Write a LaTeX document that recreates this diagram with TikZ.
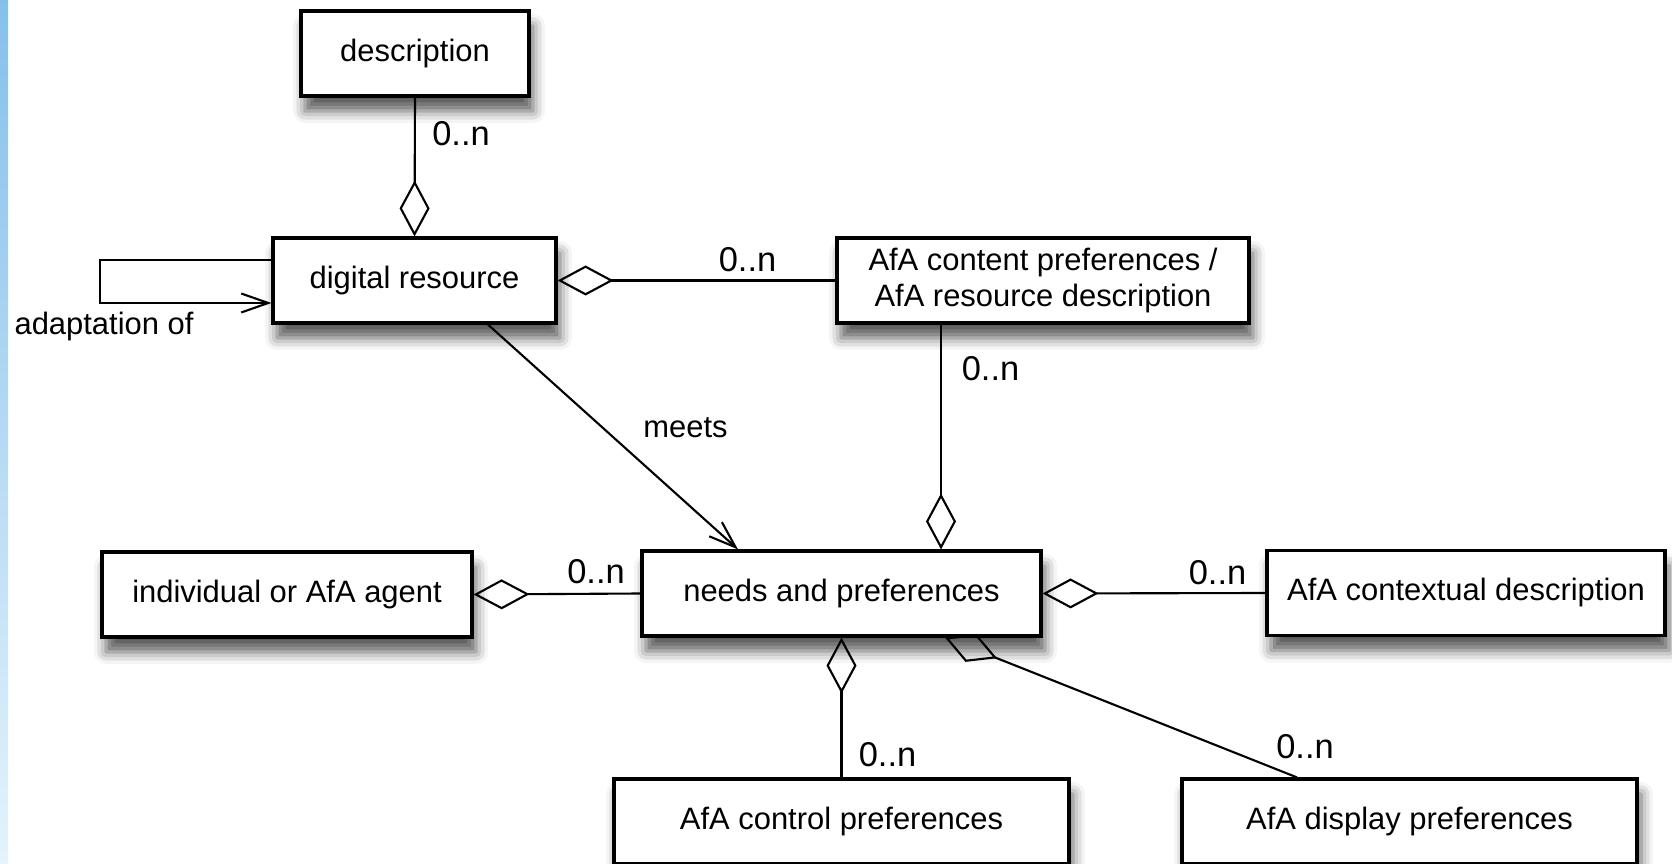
\documentclass[tikz,border=0pt]{standalone}
\usepackage{fontspec}
\setmainfont{Liberation Sans}
\usetikzlibrary{positioning}
\usetikzlibrary{calc}
\usetikzlibrary{arrows.meta,shadows.blur}

\definecolor{striptop}{RGB}{134,192,234}
\definecolor{stripbot}{RGB}{228,243,252}

\begin{document}
\begin{tikzpicture}
\tikzstyle{klass} =[rectangle,draw=black,line width=0.9pt,fill=white,minimum height=8.5mm,inner sep=0pt,font=\fontsize{8.8}{10}\selectfont,blur shadow={shadow xshift=0.4mm,shadow yshift=-1.5mm,shadow blur radius=1.2mm,shadow opacity=65}]
\tikzstyle{mult} =[inner sep=0pt,font=\fontsize{9.8}{11}\selectfont]
\tikzstyle{role} =[inner sep=0pt,font=\fontsize{8.8}{10}\selectfont]
\tikzstyle{agg} =[line width=0.6pt,{Diamond[open,length=5.6mm,width=3mm]}-]
\tikzstyle{assoc} =[line width=0.6pt,-{Straight Barb[length=2.7mm,width=1.9mm]}]

\useasboundingbox (0,0) rectangle (16.72,-8.64);
\shade[top color=striptop,bottom color=stripbot] (0,0) rectangle (0.08,-8.64);

\node[klass,minimum width=22.8mm](desc) at (4.15,-0.535){description};
\node[klass,minimum width=28.3mm](res) at (4.145,-2.805){digital resource};
\node[klass,minimum width=41.2mm,align=center](content) at (10.43,-2.805){AfA content preferences /\\AfA resource description};
\node[klass,minimum width=37mm](agent) at (2.87,-5.945){individual or AfA agent};
\node[klass,minimum width=39.9mm](needs) at (8.415,-5.935){needs and preferences};
\node[klass,minimum width=39.8mm](context) at (14.66,-5.93){AfA contextual description};
\node[klass,minimum width=45.5mm](control) at (8.415,-8.215){AfA control preferences};
\node[klass,minimum width=45.5mm](display) at (14.095,-8.215){AfA display preferences};

\draw[agg] (res.north)--(desc.south);
\draw[agg] (res.east)--(content.west);
\draw[agg] ([xshift=9.95mm]needs.north)--([xshift=9.95mm]needs.north |- content.south);
\draw[agg] (agent.east)--(needs.west);
\draw[agg] (needs.east)--(context.west);
\draw[agg] (needs.south)--(control.north);
\draw[agg] ([xshift=10.35mm]needs.south)--([xshift=-11.25mm]display.north);

\draw[assoc] ([xshift=7.35mm]res.south)--([xshift=-10.35mm]needs.north);
\draw[assoc] ([yshift=2.05mm]res.west)--++(-1.71,0)|-([yshift=-2.25mm]res.west);

\node[role,anchor=base](adapt) at (1.04,-3.35){adaptation of};
\node[role,anchor=base](meets) at (6.855,-4.38){meets};

\node[mult](m1) at (4.61,-1.335){0..n};
\node[mult](m2) at (7.475,-2.60){0..n};
\node[mult](m3) at (9.905,-3.69){0..n};
\node[mult](m4) at (5.96,-5.72){0..n};
\node[mult](m5) at (12.175,-5.725){0..n};
\node[mult](m6) at (8.875,-7.55){0..n};
\node[mult](m7) at (13.05,-7.465){0..n};
\end{tikzpicture}
\end{document}
